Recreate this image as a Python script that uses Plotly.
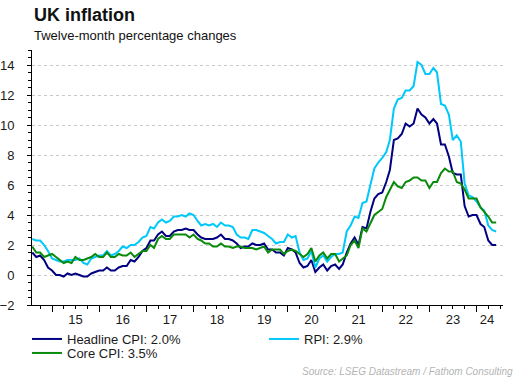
import pandas as pd
import plotly.graph_objects as go

dates = pd.date_range("2014-08-01", "2024-06-01", freq="MS")

headline_cpi = [
    1.5, 1.2, 1.3, 1.0, 0.5,
    0.3, 0.0, 0.0, -0.1, 0.1, 0.0, 0.1, 0.0, -0.1, -0.1, 0.1, 0.2,
    0.3, 0.3, 0.5, 0.3, 0.3, 0.5, 0.6, 0.6, 1.0, 0.9, 1.2, 1.6,
    1.8, 2.3, 2.3, 2.7, 2.9, 2.6, 2.6, 2.9, 3.0, 3.0, 3.1, 3.0,
    3.0, 2.7, 2.5, 2.4, 2.4, 2.4, 2.5, 2.7, 2.4, 2.4, 2.3, 2.1,
    1.8, 1.9, 1.9, 2.1, 2.0, 2.0, 2.1, 1.7, 1.7, 1.5, 1.5, 1.3,
    1.8, 1.7, 1.5, 0.8, 0.5, 0.6, 1.0, 0.2, 0.5, 0.7, 0.3, 0.6,
    0.7, 0.4, 0.7, 1.5, 2.1, 2.5, 2.0, 3.2, 3.1, 4.2, 5.1, 5.4,
    5.5, 6.2, 7.0, 9.0, 9.1, 9.4, 10.1, 9.9, 10.1, 11.1, 10.7, 10.5,
    10.1, 10.4, 10.1, 8.7, 8.7, 7.9, 6.8, 6.7, 6.7, 4.6, 3.9, 4.0,
    4.0, 3.4, 3.2, 2.3, 2.0, 2.0,
]

rpi = [
    2.4, 2.3, 2.3, 2.0, 1.6,
    1.1, 1.0, 0.9, 0.9, 1.0, 1.0, 1.0, 1.1, 0.8, 0.7, 1.1, 1.2,
    1.3, 1.3, 1.6, 1.3, 1.4, 1.6, 1.9, 1.8, 2.0, 2.0, 2.2, 2.5,
    2.6, 3.2, 3.1, 3.5, 3.7, 3.5, 3.6, 3.9, 3.9, 4.0, 3.9, 4.1,
    4.0, 3.6, 3.3, 3.4, 3.3, 3.4, 3.2, 3.5, 3.3, 3.3, 3.2, 2.7,
    2.5, 2.5, 2.4, 3.0, 3.0, 2.9, 2.8, 2.6, 2.4, 2.1, 2.2, 2.2,
    2.7, 2.5, 2.6, 1.5, 1.0, 1.1, 1.6, 0.5, 1.1, 1.3, 0.9, 1.2,
    1.4, 1.4, 1.5, 2.9, 3.3, 3.9, 3.8, 4.8, 4.9, 6.0, 7.1, 7.5,
    7.8, 8.2, 9.0, 11.1, 11.7, 11.8, 12.3, 12.3, 12.6, 14.2, 14.0, 13.4,
    13.4, 13.8, 13.5, 11.4, 11.3, 10.7, 9.0, 9.3, 8.9, 6.1, 5.3, 5.2,
    4.9, 4.5, 4.3, 3.3, 3.0, 2.9,
]

core_cpi = [
    1.9, 1.5, 1.5, 1.2, 1.3,
    1.4, 1.2, 1.0, 0.8, 0.9, 0.8, 1.2, 1.0, 1.0, 1.1, 1.2, 1.4,
    1.2, 1.2, 1.5, 1.2, 1.2, 1.4, 1.3, 1.3, 1.5, 1.2, 1.4, 1.6,
    1.6, 2.0, 1.8, 2.4, 2.6, 2.4, 2.4, 2.7, 2.7, 2.7, 2.7, 2.5,
    2.7, 2.4, 2.3, 2.1, 2.1, 1.9, 1.9, 2.1, 1.9, 1.9, 1.8, 1.9,
    1.9, 1.8, 1.8, 1.8, 1.7, 1.8, 1.9, 1.5, 1.7, 1.7, 1.7, 1.4,
    1.6, 1.7, 1.6, 1.4, 1.2, 1.4, 1.8, 0.9, 1.3, 1.5, 1.1, 1.4,
    1.4, 0.9, 1.1, 1.3, 2.0, 2.3, 1.8, 3.1, 2.9, 3.4, 4.0, 4.2,
    4.4, 5.2, 5.7, 6.2, 5.9, 5.8, 6.2, 6.3, 6.5, 6.5, 6.3, 6.3,
    5.8, 6.2, 6.2, 6.8, 7.1, 6.9, 6.9, 6.2, 6.1, 5.7, 5.1, 5.1,
    5.1, 4.5, 4.2, 3.9, 3.5, 3.5,
]

series_names = ["Headline CPI: 2.0%", "RPI: 2.9%", "Core CPI: 3.5%"]
series_colors = ["#000080", "#00c8fa", "#0a8a0a"]
series_legends = ["legend", "legend", "legend2"]

year_label_pos = ["2015-07-02", "2016-07-02", "2017-07-02", "2018-07-02", "2019-07-02",
                  "2020-07-02", "2021-07-02", "2022-07-02", "2023-07-02", "2024-03-22"]
year_labels = ["15", "16", "17", "18", "19", "20", "21", "22", "23", "24"]

x_range = ["2014-07-30", "2024-07-24"]
FONT = "Liberation Sans, Arial, sans-serif"
W, H = 520, 378
L, R, T, B = 32, 17, 50, 73
PW, PH = W - L - R, H - T - B

fig = go.Figure()
for vals, name, col, lg in zip([headline_cpi, rpi, core_cpi], series_names, series_colors, series_legends):
    fig.add_trace(go.Scatter(x=dates, y=vals, mode="lines", name=name, legend=lg,
                             line=dict(color=col, width=2)))

legend_common = dict(orientation="h", xref="container", yref="container",
                     xanchor="left", yanchor="top",
                     entrywidth=192, entrywidthmode="pixels",
                     font=dict(size=13, family=FONT, color="#1a1a1a"),
                     bgcolor="rgba(0,0,0,0)", itemwidth=30)

fig.update_layout(
    width=W, height=H,
    margin=dict(l=L, r=R, t=T, b=B, autoexpand=False),
    paper_bgcolor="white", plot_bgcolor="white",
    font=dict(family=FONT, size=13, color="#1a1a1a"),
    showlegend=True,
    legend=dict(x=27 / W, y=1 - 324 / H, **legend_common),
    legend2=dict(x=27 / W, y=1 - 338 / H, **legend_common),
    xaxis=dict(
        type="date", range=x_range, showgrid=False, zeroline=False, automargin=False,
        showline=True, linecolor="black", linewidth=1,
        ticks="outside", ticklen=6, tickcolor="black", tickwidth=1,
        dtick="M12", tick0="2015-01-01", showticklabels=False,
        minor=dict(dtick="M3", tick0="2015-01-01", ticks="outside", ticklen=3,
                   tickcolor="black", showgrid=False),
    ),
    xaxis2=dict(
        type="date", range=x_range, overlaying="x", anchor="y", side="bottom",
        showgrid=False, zeroline=False, showline=False, automargin=False,
        tickmode="array", tickvals=year_label_pos, ticktext=year_labels,
        ticks="", ticklabelstandoff=5,
        tickfont=dict(size=13, family=FONT, color="#1a1a1a"),
    ),
    yaxis=dict(
        range=[-2, 15], dtick=2, tick0=0, showgrid=True, automargin=False,
        gridcolor="#c8c8c8", griddash="dot", gridwidth=1, zeroline=False,
        showline=True, linecolor="black", linewidth=1,
        ticks="outside", ticklen=4, tickcolor="black",
        ticklabelstandoff=10,
        tickfont=dict(size=13, family=FONT, color="#1a1a1a"),
        minor=dict(dtick=0.5, ticks="outside", ticklen=3, tickcolor="black", showgrid=False),
    ),
)

# invisible trace to activate xaxis2
fig.add_trace(go.Scatter(x=[dates[0]], y=[None], xaxis="x2", showlegend=False,
                         hoverinfo="skip", mode="lines"))

def px_x(x):
    return (x - L) / PW

def px_y(y):
    return (H - B - y) / PH

fig.add_annotation(text="<b>UK inflation</b>", xref="paper", yref="paper",
                   x=px_x(32), y=px_y(15), xanchor="left", yanchor="middle",
                   showarrow=False, font=dict(size=18, family=FONT, color="#111"))
fig.add_annotation(text="Twelve-month percentage changes", xref="paper", yref="paper",
                   x=px_x(32), y=px_y(35), xanchor="left", yanchor="middle",
                   showarrow=False, font=dict(size=13, family=FONT, color="#111"))
fig.add_annotation(text="<i>Source: LSEG Datastream / Fathom Consulting</i>",
                   xref="paper", yref="paper",
                   x=px_x(515), y=px_y(371), xanchor="right", yanchor="middle",
                   showarrow=False, font=dict(size=10, family=FONT, color="#b4b4b4"))

fig.write_html("out.html",
               config={"displayModeBar": False},
               post_script="document.body.style.margin='0';document.body.style.padding='0';"
                           "document.body.style.overflow='hidden';")
